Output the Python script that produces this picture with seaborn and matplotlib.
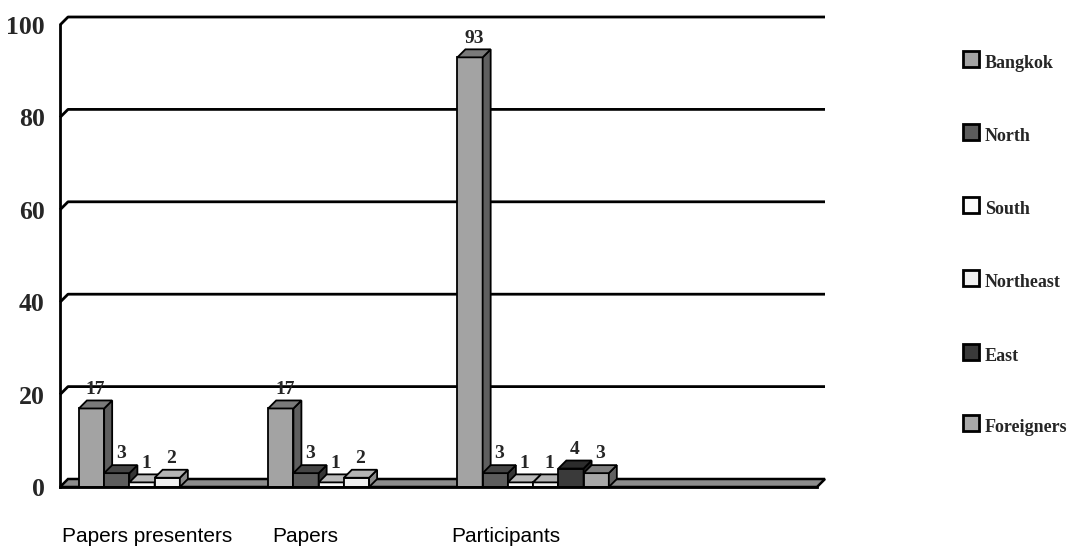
import numpy as np
import pandas as pd
import seaborn as sns
import matplotlib
matplotlib.use("Agg")
import matplotlib.pyplot as plt
from matplotlib.patches import Polygon, Rectangle
from matplotlib.colors import to_rgb
from matplotlib.transforms import blended_transform_factory

# ---- data ----
categories = ["Papers presenters", "Papers", "Participants"]
regions = ["Bangkok", "North", "South", "Northeast", "East", "Foreigners"]
bangkok = [17, 17, 93]
north = [3, 3, 3]
south = [1, 1, 1]
northeast = [2, 2, 1]
east = [0, 0, 4]
foreigners = [0, 0, 3]
series = [bangkok, north, south, northeast, east, foreigners]
y_ticks = [0, 20, 40, 60, 80, 100]

face_colors = ["#a3a3a3", "#5c5c5c", "#fafafa", "#f0f0f0", "#3a3a3a", "#a8a8a8"]

df = pd.DataFrame(
    [(c, r, v) for r, vals in zip(regions, series) for c, v in zip(categories, vals)],
    columns=["category", "region", "value"],
)

sns.set_theme(style="white")
plt.rcParams["font.family"] = ["Liberation Serif", "DejaVu Serif"]

W, H = 1075, 550
fig = plt.figure(figsize=(W / 100, H / 100), dpi=100)
ax = fig.add_axes([60 / W, 63 / H, 757 / W, 462 / H])

sns.barplot(
    data=df, x="category", y="value", hue="region",
    order=categories, hue_order=regions, palette=face_colors,
    edgecolor="black", linewidth=1.3, width=0.8, gap=0,
    errorbar=None, legend=False, ax=ax,
)

ax.set_xlim(-0.5, 3.5)
ax.set_ylim(0, 100)

# 3-D depth offsets (data units): ~8 px right and ~8 px up
px_x = 757 / 4.0
px_y = 462 / 100.0
dx = 8 / px_x
dy = 8 / px_y

def shade(c, f):
    r, g, b = to_rgb(c)
    return (r * f, g * f, b * f)

# back-wall gridlines with the diagonal link to the axis
for t in y_ticks[1:]:
    ax.plot([-0.5, -0.5 + dx, 3.5 + dx], [t, t + dy, t + dy],
            color="black", lw=2, zorder=1, clip_on=False, solid_capstyle="butt")

# floor slab
floor = Polygon([(-0.5, 0), (3.5, 0), (3.5 + dx, dy), (-0.5 + dx, dy)],
                closed=True, facecolor="#8c8c8c", edgecolor="black", lw=1.8,
                zorder=1.5, clip_on=False)
ax.add_patch(floor)

# give each bar a side and top face
for k, cont in enumerate(ax.containers):
    col = face_colors[k]
    for bar in cont:
        x, w, h = bar.get_x(), bar.get_width(), bar.get_height()
        z = 3 + k * 0.1
        bar.set_zorder(z)
        bar.set_clip_on(False)
        if not h or np.isnan(h) or h <= 0:
            bar.set_visible(False)
            continue
        side = Polygon([(x + w, 0), (x + w + dx, dy), (x + w + dx, h + dy), (x + w, h)],
                       closed=True, facecolor=shade(col, 0.58), edgecolor="black",
                       lw=1.3, zorder=z, clip_on=False)
        top = Polygon([(x, h), (x + w, h), (x + w + dx, h + dy), (x + dx, h + dy)],
                      closed=True, facecolor=shade(col, 0.75), edgecolor="black",
                      lw=1.3, zorder=z, clip_on=False)
        ax.add_patch(side)
        ax.add_patch(top)
        ax.annotate(f"{int(h)}", (x + (w + dx) / 2, h + dy), xytext=(0, 2),
                    textcoords="offset points", ha="center", va="bottom",
                    fontsize=14, fontweight="bold", zorder=10,
                    family=["Liberation Serif", "DejaVu Serif"])

# axes styling
for s in ["top", "right"]:
    ax.spines[s].set_visible(False)
ax.spines["left"].set_color("black")
ax.spines["left"].set_linewidth(2)
ax.spines["bottom"].set_color("black")
ax.spines["bottom"].set_linewidth(2)
ax.spines["left"].set_zorder(6)
ax.spines["bottom"].set_zorder(6)
ax.set_xlabel("")
ax.set_ylabel("")
ax.set_yticks(y_ticks)
ax.set_yticklabels([str(t) for t in y_ticks], fontsize=18.5, fontweight="bold")
ax.set_xticks(np.arange(-0.5, 3.51, 0.5))
ax.set_xticklabels([""] * 9)
ax.tick_params(axis="y", direction="out", length=8, width=2, color="black", pad=3)
ax.tick_params(axis="x", direction="out", length=8, width=2, color="black")
ax.grid(False)

# category names under the axis
trans = blended_transform_factory(ax.transData, fig.transFigure)
label_x = [-0.49, 0.62, 1.57]
for name, lx in zip(categories, label_x):
    ax.text(lx, 1 - 537 / H, name, transform=trans, ha="left", va="center",
            fontsize=15, family=["Liberation Sans", "DejaVu Sans"], color="black")

# legend down the right side
leg_y = [59, 132, 205, 278, 352, 423]
sq = 16
for name, col, yc in zip(regions, face_colors, leg_y):
    fig.add_artist(Rectangle((963 / W, 1 - (yc + sq / 2) / H), sq / W, sq / H,
                             transform=fig.transFigure, facecolor=col,
                             edgecolor="black", lw=2))
    fig.text(985 / W, 1 - (yc + 9) / H, name, ha="left", va="baseline",
             fontsize=13, fontweight="bold",
             family=["Liberation Serif", "DejaVu Serif"])

fig.savefig("out.png", dpi=100, facecolor="white")
